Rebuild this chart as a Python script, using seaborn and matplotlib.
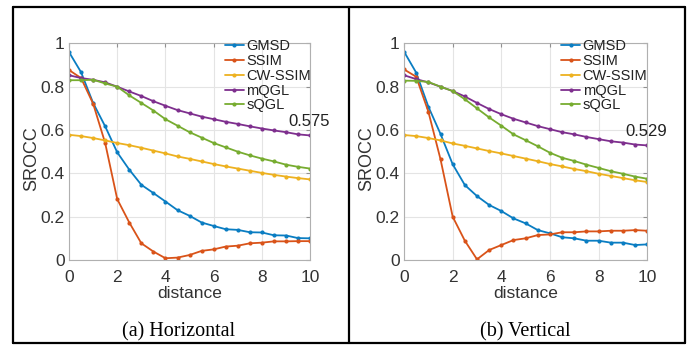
import numpy as np
import pandas as pd
import matplotlib
matplotlib.use("Agg")
import matplotlib.pyplot as plt
from matplotlib.lines import Line2D
import seaborn as sns

# distances (x axis)
distance = [0, 0.5, 1, 1.5, 2, 2.5, 3, 3.5, 4, 4.5, 5, 5.5, 6, 6.5, 7, 7.5, 8, 8.5, 9, 9.5, 10]
methods = ['GMSD', 'SSIM', 'CW-SSIM', 'mQGL', 'sQGL']
colors = ['#0a7dc2', '#D95319', '#EDB120', '#7E2F8E', '#77AC30']

# (a) Horizontal
h_gmsd = [0.960, 0.867, 0.725, 0.617, 0.497, 0.417, 0.347, 0.309, 0.270, 0.230, 0.204, 0.173,
          0.157, 0.142, 0.139, 0.128, 0.127, 0.114, 0.113, 0.101, 0.100]
h_ssim = [0.877, 0.840, 0.722, 0.540, 0.281, 0.173, 0.077, 0.039, 0.008, 0.011, 0.023, 0.042,
          0.049, 0.062, 0.066, 0.077, 0.080, 0.086, 0.086, 0.087, 0.087]
h_cwssim = [0.578, 0.572, 0.563, 0.552, 0.540, 0.530, 0.518, 0.505, 0.492, 0.478, 0.467, 0.455,
            0.443, 0.432, 0.422, 0.412, 0.402, 0.393, 0.385, 0.378, 0.372]
h_mqgl = [0.853, 0.840, 0.832, 0.820, 0.800, 0.778, 0.757, 0.733, 0.712, 0.692, 0.677, 0.662,
          0.650, 0.638, 0.628, 0.617, 0.607, 0.598, 0.590, 0.580, 0.575]
h_sqgl = [0.830, 0.830, 0.832, 0.815, 0.800, 0.760, 0.725, 0.690, 0.650, 0.620, 0.590, 0.565,
          0.540, 0.520, 0.500, 0.483, 0.468, 0.455, 0.440, 0.430, 0.422]

# (b) Vertical
v_gmsd = [0.962, 0.865, 0.708, 0.582, 0.442, 0.346, 0.295, 0.254, 0.226, 0.192, 0.169, 0.138,
          0.123, 0.105, 0.100, 0.089, 0.089, 0.080, 0.080, 0.069, 0.072]
v_ssim = [0.880, 0.846, 0.685, 0.465, 0.200, 0.089, 0.003, 0.046, 0.069, 0.092, 0.100, 0.115,
          0.118, 0.128, 0.128, 0.132, 0.132, 0.135, 0.135, 0.138, 0.135]
v_cwssim = [0.577, 0.572, 0.563, 0.552, 0.538, 0.527, 0.515, 0.503, 0.492, 0.480, 0.468, 0.456,
            0.443, 0.432, 0.420, 0.410, 0.398, 0.388, 0.378, 0.368, 0.360]
v_mqgl = [0.853, 0.835, 0.820, 0.800, 0.780, 0.755, 0.725, 0.697, 0.673, 0.652, 0.635, 0.618,
          0.604, 0.590, 0.580, 0.568, 0.558, 0.548, 0.542, 0.533, 0.529]
v_sqgl = [0.828, 0.827, 0.822, 0.800, 0.780, 0.742, 0.700, 0.658, 0.620, 0.580, 0.553, 0.525,
          0.495, 0.472, 0.457, 0.440, 0.425, 0.410, 0.398, 0.385, 0.375]

panels = [
    ('(a) Horizontal', [h_gmsd, h_ssim, h_cwssim, h_mqgl, h_sqgl], '0.575', 0.575),
    ('(b) Vertical', [v_gmsd, v_ssim, v_cwssim, v_mqgl, v_sqgl], '0.529', 0.529),
]

sns.set_style('white')
plt.rcParams['font.family'] = ['Liberation Sans', 'DejaVu Sans']

fig = plt.figure(figsize=(6.99, 3.46), dpi=100)
axes_rects = [[0.0987, 0.2486, 0.345, 0.626], [0.578, 0.2486, 0.348, 0.626]]
caption_x = [179 / 699, 525 / 699]

for i, (caption, series, note, end_val) in enumerate(panels):
    ax = fig.add_axes(axes_rects[i])
    for name, vals, c in zip(methods, series, colors):
        df = pd.DataFrame({'distance': distance, 'SROCC': vals})
        sns.lineplot(data=df, x='distance', y='SROCC', ax=ax, color=c, label=name,
                     marker='o', markersize=3, markeredgewidth=0, linewidth=1.3)
    ax.set_xlim(0, 10)
    ax.set_ylim(0, 1)
    ax.set_xticks([0, 2, 4, 6, 8, 10])
    ax.set_yticks([0, 0.2, 0.4, 0.6, 0.8, 1])
    ax.set_yticklabels(['0', '0.2', '0.4', '0.6', '0.8', '1'])
    ax.grid(True, color='#e4e4e4', linewidth=0.8)
    ax.set_axisbelow(True)
    for sp in ax.spines.values():
        sp.set_color('#b0b0b0')
        sp.set_linewidth(0.8)
    ax.tick_params(direction='in', length=3, top=True, right=True, color='#909090',
                   labelsize=12.5, labelcolor='#333333')
    ax.tick_params(axis='x', pad=7)
    ax.tick_params(axis='y', pad=3)
    ax.set_xlabel('distance', fontsize=12.5, color='#333333', labelpad=1)
    ax.set_ylabel('SROCC', fontsize=13, color='#333333')
    ax.yaxis.set_label_coords(-0.118, 0.47)
    ax.legend(loc='upper left', bbox_to_anchor=(0.647, 1.018), frameon=False, fontsize=10.5,
              borderpad=0, borderaxespad=0, labelspacing=0.05, handlelength=1.3,
              handletextpad=0.15, labelcolor='#222222')
    ax.text(9.95, end_val + 0.065, note, fontsize=12, ha='center', va='center', color='#222222')
    fig.text(caption_x[i], 1 - 332 / 346, caption, ha='center', va='center',
             fontsize=14.5, family=['Liberation Serif', 'DejaVu Serif'], color='black')

# black frame around the two panels
L, R, T, B, M = 13 / 699, 685 / 699, 1 - 7 / 346, 1 - 343 / 346, 349 / 699
for xs, ys in [([L, R], [T, T]), ([L, R], [B, B]), ([L, L], [B, T]), ([R, R], [B, T]), ([M, M], [B, T])]:
    fig.add_artist(Line2D(xs, ys, transform=fig.transFigure, color='black', linewidth=1.6))

fig.savefig('out.png', dpi=100)
